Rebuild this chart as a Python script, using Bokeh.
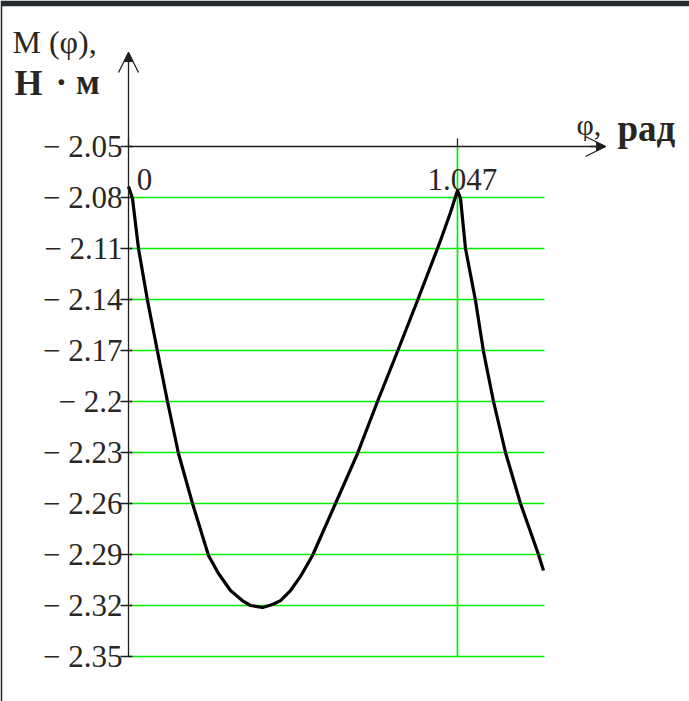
from bokeh.plotting import figure
from bokeh.models import (Range1d, FixedTicker, CustomJSTickFormatter, Arrow,
                          OpenHead, NormalHead)
from bokeh.core.properties import value
from bokeh.embed import file_html
from bokeh.resources import INLINE

# ---------------- data ----------------
phi = [0.000, 0.0127, 0.0318, 0.0605, 0.0923, 0.1241, 0.1591, 0.2037, 0.2546,
       0.2864, 0.3246, 0.3660, 0.3883, 0.4265, 0.4583, 0.4838, 0.5156, 0.5474,
       0.5856, 0.6588, 0.7288, 0.7925, 0.8561, 0.9198, 0.9834, 0.9930, 1.0248,
       1.0471, 1.0567, 1.0726, 1.1044, 1.1298, 1.1617, 1.1999, 1.2476, 1.3049,
       1.3208]
moment = [-2.0735, -2.0806, -2.1100, -2.1406, -2.1706, -2.2000, -2.2306, -2.2600,
          -2.2906, -2.3012, -2.3112, -2.3176, -2.3200, -2.3212, -2.3194, -2.3171,
          -2.3112, -2.3029, -2.2906, -2.2600, -2.2306, -2.2000, -2.1706, -2.1406,
          -2.1100, -2.1053, -2.0888, -2.0759, -2.0806, -2.1100, -2.1406, -2.1706,
          -2.2000, -2.2300, -2.2600, -2.2900, -2.2994]
phi_max = 1.324

y_ticks = [-2.05, -2.08, -2.11, -2.14, -2.17, -2.2, -2.23, -2.26, -2.29, -2.32, -2.35]
y_tick_labels = ["\u2212 2.05", "\u2212 2.08", "\u2212 2.11", "\u2212 2.14", "\u2212 2.17",
                 "\u2212 2.2", "\u2212 2.23", "\u2212 2.26", "\u2212 2.29", "\u2212 2.32",
                 "\u2212 2.35"]
x_ticks = [0, 1.047]
x_tick_labels = ["0", "1.047"]

y_title_a = "M (\u03c6),"
y_title_b = "\u041d"
y_title_c = "\u00b7 \u043c"
x_title_a = "\u03c6,"
x_title_b = "\u0440\u0430\u0434"

# ---------------- layout ----------------
W, H = 689, 701
LEFT, TOP = 2, 6
PX0, PXS = 128.0, 314.2           # pixel of phi = 0, pixels per rad
PY0, PYS = 146.0, 51.0 / 0.03     # pixel of top tick, pixels per unit

y_top = y_ticks[0]


def X(px):
    return (px - PX0) / PXS


def Y(py):
    return y_top - (py - PY0) / PYS


INK = "#1e1e1e"
TXT = "#2a2622"
GREEN = "#00f000"
FONT = value("Liberation Serif")

p = figure(width=W, height=H, title=None, toolbar_location=None,
           output_backend="svg",
           x_range=Range1d(X(LEFT), X(W)), y_range=Range1d(Y(H), Y(TOP)),
           min_border_left=LEFT, min_border_top=TOP,
           min_border_right=0, min_border_bottom=0,
           border_fill_color="#24292f", background_fill_color="white",
           outline_line_color=None)
p.xgrid.visible = False
p.ygrid.visible = False

# grid lines
p.segment(x0=[0] * (len(y_ticks) - 1), x1=[phi_max] * (len(y_ticks) - 1),
          y0=y_ticks[1:], y1=y_ticks[1:], line_color=GREEN, line_width=1.7)
p.segment(x0=[x_ticks[1]], x1=[x_ticks[1]], y0=[y_ticks[0]], y1=[y_ticks[-1]],
          line_color=GREEN, line_width=1.7)

# curve
p.line(phi, moment, line_color="black", line_width=3.2, line_join="round")

# y axis
ya = p.yaxis[0]
ya.fixed_location = x_ticks[0]
ya.bounds = (y_ticks[-1], Y(60))
ya.ticker = FixedTicker(ticks=y_ticks)
ya.formatter = CustomJSTickFormatter(
    args=dict(tv=y_ticks, labs=y_tick_labels),
    code="const i = tv.findIndex(t => Math.abs(t - tick) < 1e-9); return i >= 0 ? labs[i] : '';")
ya.minor_tick_line_color = None
ya.major_tick_out = 8
ya.major_tick_in = 4
ya.major_label_standoff = -2
ya.axis_line_color = INK
ya.axis_line_width = 1.3
ya.major_tick_line_color = INK
ya.major_tick_line_width = 1.3
ya.major_label_text_font = "Liberation Serif"
ya.major_label_text_font_size = "31px"
ya.major_label_text_color = TXT

# x axis
xa = p.xaxis[0]
xa.fixed_location = y_top
xa.bounds = (0, X(598))
xa.ticker = FixedTicker(ticks=x_ticks)
xa.formatter = CustomJSTickFormatter(code="return '';")
xa.minor_tick_line_color = None
xa.major_tick_out = 0
xa.major_tick_in = 8
xa.axis_line_color = INK
xa.axis_line_width = 1.3
xa.major_tick_line_color = INK
xa.major_tick_line_width = 1.3

# x tick labels
p.text(x=x_ticks, y=[y_top] * len(x_ticks), text=x_tick_labels,
       x_offset=[16, 5], y_offset=[33, 33], text_align="center",
       text_baseline="alphabetic", text_font=FONT, text_font_size="31px",
       text_color=TXT)

# arrows
p.add_layout(Arrow(end=OpenHead(size=20, line_color=INK, line_width=1.3),
                   x_start=0, y_start=Y(62), x_end=0, y_end=Y(52),
                   line_color=INK, line_width=1.3))
p.add_layout(Arrow(end=NormalHead(size=9, fill_color=INK, line_color=INK),
                   x_start=0, y_start=Y(70), x_end=0, y_end=Y(52),
                   line_alpha=0))
p.add_layout(Arrow(end=OpenHead(size=20, line_color=INK, line_width=1.3),
                   x_start=X(590), y_start=y_top, x_end=X(605), y_end=y_top,
                   line_color=INK, line_width=1.3))
p.add_layout(Arrow(end=NormalHead(size=9, fill_color=INK, line_color=INK),
                   x_start=X(585), y_start=y_top, x_end=X(605), y_end=y_top,
                   line_alpha=0))

# titles
p.text(x=[X(12)], y=[Y(41)], text=[y_title_a], text_font=FONT,
       text_font_size="32px", text_color=TXT, text_baseline="alphabetic")
p.text(x=[X(14)], y=[Y(82)], text=[y_title_b], text_font=FONT,
       text_font_size="36px", text_font_style="bold", text_color=TXT,
       text_baseline="alphabetic")
p.text(x=[X(55)], y=[Y(82)], text=[y_title_c], text_font=FONT,
       text_font_size="35px", text_font_style="bold", text_color=TXT,
       text_baseline="alphabetic")
p.text(x=[X(576)], y=[Y(124)], text=[x_title_a], text_font=FONT,
       text_font_size="30px", text_color=TXT, text_baseline="alphabetic")
p.text(x=[X(617)], y=[Y(128)], text=[x_title_b], text_font=FONT,
       text_font_size="37px", text_font_style="bold", text_color=TXT,
       text_baseline="alphabetic")

open("out.html", "w").write(file_html(p, INLINE))
